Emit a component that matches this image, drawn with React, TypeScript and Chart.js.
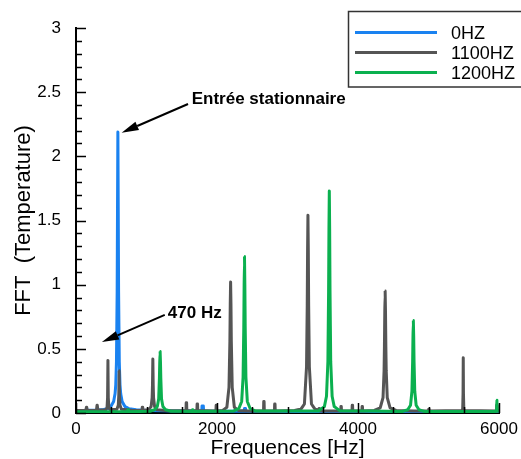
import React, { useEffect, useRef } from "react";
import { Chart, registerables } from "chart.js";

Chart.register(...registerables);

const FONT = "'Liberation Sans', Arial, Helvetica, sans-serif";

const seriesLabels = ["0HZ", "1100HZ", "1200HZ"];
const seriesColors = ["#1a82f0", "#555555", "#0bb04f"];

const xTicks = [0, 2000, 4000, 6000];
const yTicks = [0, 0.5, 1, 1.5, 2, 2.5, 3];
const xMinorStep = 500;
const yMinorStep = 0.1;

const xTitle = "Frequences [Hz]";
const yTitle = "FFT  (Temperature)";

// [Hz, FFT]
const blueData: [number, number][] = [
  [0, 0.02], [100, 0.02], [200, 0.021], [300, 0.023], [394, 0.027], [454, 0.035],
  [494, 0.05], [534, 0.09], [554, 0.15], [564, 0.22], [574, 0.4], [584, 0.95],
  [589, 1.6], [594, 2.19], [599, 1.6], [604, 0.95], [614, 0.4], [624, 0.22],
  [634, 0.15], [654, 0.09], [694, 0.05], [754, 0.033], [854, 0.025], [1000, 0.02],
  [1400, 0.016], [1784, 0.015], [1788, 0.055], [1806, 0.055], [1810, 0.015],
  [2000, 0.013], [2386, 0.013], [2390, 0.035], [2404, 0.035], [2408, 0.013],
  [3000, 0.011], [4000, 0.01], [5000, 0.01], [6000, 0.01],
];

const grayData: [number, number][] = [
  [0, 0.02], [140, 0.02], [148, 0.045], [152, 0.045], [160, 0.02], [290, 0.02],
  [298, 0.06], [302, 0.06], [310, 0.022], [420, 0.025], [440, 0.04], [448, 0.12],
  [453, 0.41], [458, 0.12], [466, 0.04], [486, 0.025], [580, 0.03], [600, 0.06],
  [607, 0.14], [612, 0.33], [617, 0.14], [624, 0.06], [644, 0.03], [800, 0.02],
  [936, 0.02], [940, 0.045], [946, 0.045], [950, 0.02], [1030, 0.025], [1065, 0.05],
  [1080, 0.12], [1085, 0.22], [1090, 0.42], [1095, 0.22], [1100, 0.12], [1115, 0.05],
  [1150, 0.025], [1300, 0.018], [1560, 0.018], [1563, 0.08], [1569, 0.08], [1572, 0.018],
  [1715, 0.018], [1718, 0.07], [1724, 0.07], [1727, 0.018], [1985, 0.016], [1988, 0.06],
  [1993, 0.06], [1996, 0.016], [2080, 0.02], [2140, 0.045], [2170, 0.2], [2183, 0.56],
  [2188, 0.85], [2193, 1.02], [2198, 0.85], [2203, 0.56], [2216, 0.2], [2246, 0.045],
  [2306, 0.02], [2450, 0.016], [2660, 0.016], [2663, 0.09], [2668, 0.09], [2671, 0.016],
  [2815, 0.016], [2818, 0.07], [2823, 0.07], [2826, 0.016], [3100, 0.02], [3190, 0.03],
  [3240, 0.07], [3270, 0.36], [3280, 0.84], [3285, 1.27], [3290, 1.54], [3295, 1.27],
  [3300, 0.84], [3310, 0.36], [3340, 0.07], [3390, 0.03], [3445, 0.02], [3448, 0.035],
  [3453, 0.035], [3456, 0.016], [3755, 0.016], [3758, 0.05], [3763, 0.05], [3766, 0.016],
  [3915, 0.016], [3918, 0.06], [3923, 0.06], [3926, 0.016], [4055, 0.016], [4058, 0.05],
  [4063, 0.05], [4066, 0.016], [4230, 0.02], [4315, 0.04], [4355, 0.12], [4370, 0.33],
  [4375, 0.52], [4380, 0.79], [4385, 0.95], [4390, 0.79], [4395, 0.52], [4400, 0.33],
  [4415, 0.12], [4455, 0.04], [4540, 0.02], [4800, 0.016], [5000, 0.016], [5003, 0.03],
  [5008, 0.03], [5011, 0.016], [5470, 0.018], [5485, 0.03], [5490, 0.15], [5493, 0.43],
  [5496, 0.15], [5501, 0.03], [5516, 0.018], [5964, 0.016], [5967, 0.06], [5973, 0.06],
  [5976, 0.016], [6000, 0.016],
];

const greenData: [number, number][] = [
  [0, 0.01], [730, 0.01], [736, 0.025], [744, 0.025], [750, 0.01], [1050, 0.014],
  [1113, 0.025], [1153, 0.05], [1173, 0.11], [1183, 0.27], [1188, 0.4], [1193, 0.48],
  [1198, 0.4], [1203, 0.27], [1213, 0.11], [1233, 0.05], [1273, 0.025], [1350, 0.014],
  [1650, 0.012], [1653, 0.025], [1658, 0.025], [1661, 0.012], [2230, 0.015], [2310, 0.035],
  [2350, 0.09], [2370, 0.28], [2380, 0.67], [2385, 1.0], [2390, 1.22], [2395, 1.0],
  [2400, 0.67], [2410, 0.28], [2430, 0.09], [2470, 0.035], [2550, 0.015], [3440, 0.016],
  [3523, 0.05], [3553, 0.13], [3573, 0.4], [3583, 0.95], [3588, 1.43], [3593, 1.73],
  [3598, 1.43], [3603, 0.95], [3613, 0.4], [3633, 0.13], [3663, 0.05], [3743, 0.018],
  [4625, 0.012], [4705, 0.025], [4745, 0.06], [4765, 0.17], [4775, 0.4], [4780, 0.6],
  [4785, 0.72], [4790, 0.6], [4795, 0.4], [4805, 0.17], [4825, 0.06], [4865, 0.025],
  [4945, 0.012], [5955, 0.012], [5966, 0.03], [5970, 0.1], [5974, 0.03], [5985, 0.015],
  [6000, 0.015],
];

// annotations in data coordinates: text anchor (left, baseline), arrow tail, arrow tip
const annotations = [
  { text: "Entrée stationnaire", at: [1641, 2.408], tail: [1589, 2.408], tip: [647, 2.184] },
  { text: "470 Hz", at: [1302, 0.738], tail: [1259, 0.764], tip: [368, 0.553] },
];

const toXY = (d: [number, number][]) => d.map(([x, y]) => ({ x, y }));

function drawArrow(ctx: CanvasRenderingContext2D, x1: number, y1: number, x2: number, y2: number) {
  const ang = Math.atan2(y2 - y1, x2 - x1);
  const headLen = 17;
  const headW = 4.5;
  const bx = x2 - headLen * Math.cos(ang);
  const by = y2 - headLen * Math.sin(ang);
  ctx.strokeStyle = "#000";
  ctx.lineWidth = 2;
  ctx.beginPath();
  ctx.moveTo(x1, y1);
  ctx.lineTo(bx, by);
  ctx.stroke();
  ctx.fillStyle = "#000";
  ctx.beginPath();
  ctx.moveTo(x2, y2);
  ctx.lineTo(bx + headW * Math.sin(ang), by - headW * Math.cos(ang));
  ctx.lineTo(bx - headW * Math.sin(ang), by + headW * Math.cos(ang));
  ctx.closePath();
  ctx.fill();
}

const decorPlugin = {
  id: "decor",
  afterDraw(chart: any) {
    const { ctx, chartArea } = chart;
    const xs = chart.scales.x;
    const ys = chart.scales.y;
    ctx.save();
    // inward ticks
    ctx.strokeStyle = "#000";
    ctx.lineWidth = 1.5;
    for (let i = 0; i <= Math.round((ys.max - ys.min) / yMinorStep); i++) {
      const v = ys.min + i * yMinorStep;
      const major = yTicks.some((t) => Math.abs(t - v) < 1e-6);
      const py = Math.round(ys.getPixelForValue(v)) + 0.5;
      ctx.beginPath();
      ctx.moveTo(chartArea.left, py);
      ctx.lineTo(chartArea.left + (major ? 10 : 6), py);
      ctx.stroke();
    }
    for (let i = 0; i <= Math.round((xs.max - xs.min) / xMinorStep); i++) {
      const v = xs.min + i * xMinorStep;
      const major = xTicks.includes(v);
      const px = Math.round(xs.getPixelForValue(v)) + 0.5;
      ctx.beginPath();
      ctx.moveTo(px, chartArea.bottom);
      ctx.lineTo(px, chartArea.bottom - (major ? 10 : 6));
      ctx.stroke();
    }

    // annotations
    ctx.font = `bold 17px ${FONT}`;
    ctx.textBaseline = "alphabetic";
    ctx.textAlign = "left";
    for (const a of annotations) {
      const tx = xs.getPixelForValue(a.at[0]);
      const ty = ys.getPixelForValue(a.at[1]);
      ctx.fillStyle = "#000";
      ctx.fillText(a.text, tx, ty);
      drawArrow(
        ctx,
        xs.getPixelForValue(a.tail[0]),
        ys.getPixelForValue(a.tail[1]),
        xs.getPixelForValue(a.tip[0]),
        ys.getPixelForValue(a.tip[1])
      );
    }

    // legend
    const bx = 348.5, by = 11.5, bw = 180, bh = 75.5;
    ctx.fillStyle = "#fff";
    ctx.fillRect(bx, by, bw, bh);
    ctx.strokeStyle = "#333";
    ctx.lineWidth = 1.5;
    ctx.strokeRect(bx, by, bw, bh);
    ctx.font = `18px ${FONT}`;
    chart.data.datasets.forEach((ds: any, i: number) => {
      const rowY = 32.5 + i * 20;
      ctx.strokeStyle = ds.borderColor;
      ctx.lineWidth = 3;
      ctx.beginPath();
      ctx.moveTo(355, rowY);
      ctx.lineTo(437, rowY);
      ctx.stroke();
      ctx.fillStyle = "#000";
      ctx.fillText(ds.label, 451, rowY + 6);
    });
    ctx.restore();
  },
};

export default function App() {
  const ref = useRef<HTMLCanvasElement>(null);
  useEffect(() => {
    document.body.style.margin = "0";
    const series = [blueData, grayData, greenData];
    const orders = [3, 2, 1];
    const chart = new Chart(ref.current as HTMLCanvasElement, {
      type: "scatter",
      data: {
        datasets: series.map((d, i) => ({
          label: seriesLabels[i],
          data: toXY(d),
          borderColor: seriesColors[i],
          backgroundColor: seriesColors[i],
          borderWidth: 3,
          borderJoinStyle: "round",
          showLine: true,
          pointRadius: 0,
          pointHoverRadius: 0,
          fill: false,
          tension: 0.0001,
          order: orders[i],
        })),
      },
      options: {
        animation: false,
        responsive: false,
        devicePixelRatio: 1,
        events: [],
        layout: { padding: { top: 28, right: 22, left: 0, bottom: 0 } },
        plugins: { legend: { display: false }, tooltip: { enabled: false } },
        scales: {
          x: {
            type: "linear",
            min: 0,
            max: 6000,
            afterFit: (s: any) => {
              s.height = 46;
            },
            afterBuildTicks: (s: any) => {
              s.ticks = xTicks.map((v) => ({ value: v }));
            },
            grid: { display: false },
            border: { display: true, color: "#000", width: 2 },
            ticks: {
              font: { family: FONT, size: 17 },
              color: "#000",
              padding: -2,
              maxRotation: 0,
              autoSkip: false,
              callback: (v: any) => String(v),
            },
            title: {
              display: true,
              text: xTitle,
              color: "#000",
              font: { family: FONT, size: 21, lineHeight: 1 },
              padding: { top: 0, bottom: 0 },
            },
          },
          y: {
            type: "linear",
            min: 0,
            max: 3,
            afterFit: (s: any) => {
              s.width = 76;
            },
            afterBuildTicks: (s: any) => {
              s.ticks = yTicks.map((v) => ({ value: v }));
            },
            grid: { display: false },
            border: { display: true, color: "#000", width: 2 },
            ticks: {
              font: { family: FONT, size: 17 },
              color: "#000",
              padding: 7,
              autoSkip: false,
              callback: (v: any) => String(v),
            },
            title: {
              display: true,
              text: yTitle,
              color: "#000",
              font: { family: FONT, size: 22, lineHeight: 1 },
              padding: { top: 13, bottom: 0 },
            },
          },
        },
      },
      plugins: [decorPlugin],
    } as any);
    return () => chart.destroy();
  }, []);
  return (
    <div style={{ position: "absolute", left: 0, top: 0, width: 521, height: 459 }}>
      <canvas ref={ref} width={521} height={459} style={{ display: "block" }} />
    </div>
  );
}
